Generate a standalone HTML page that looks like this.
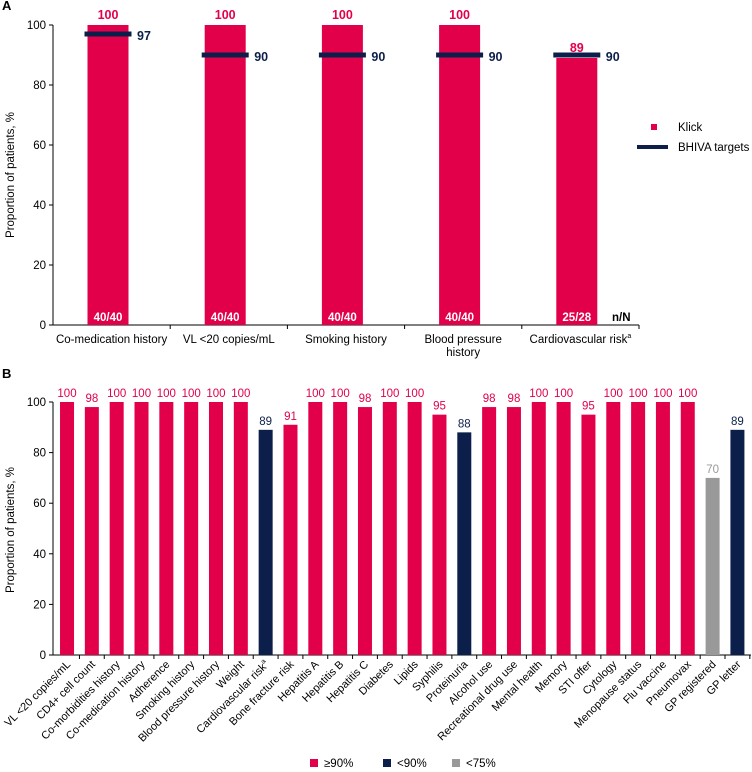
<!DOCTYPE html>
<html><head><meta charset="utf-8"><style>
body{margin:0;background:#fff;}
svg{display:block;font-family:"Liberation Sans",Arial,sans-serif;}
</style></head><body>
<svg id="svg" width="752" height="772" viewBox="0 0 752 772">
<text x="2" y="10" font-size="13" font-weight="bold">A</text>
<text x="2" y="378" font-size="13" font-weight="bold">B</text>
<g id="ga"></g>
<g id="gb"></g>
</svg>
<script>
const aCats=[["Co-medication history"],["VL <20 copies/mL"],["Smoking history"],["Blood pressure","history"],["Cardiovascular risk"]];
const aVals=[100,100,100,100,89];
const aTargets=[97,90,90,90,90];
const aN=["40/40","40/40","40/40","40/40","25/28"];
const aTicks=[0,20,40,60,80,100];

const bCats=["VL <20 copies/mL","CD4+ cell count","Co-morbidities history","Co-medication history","Adherence","Smoking history","Blood pressure history","Weight","Cardiovascular risk","Bone fracture risk","Hepatitis A","Hepatitis B","Hepatitis C","Diabetes","Lipids","Syphilis","Proteinuria","Alcohol use","Recreational drug use","Mental health","Memory","STI offer","Cytology","Menopause status","Flu vaccine","Pneumovax","GP registered","GP letter"];
const bVals=[100,98,100,100,100,100,100,100,89,91,100,100,98,100,100,95,88,98,98,100,100,95,100,100,100,100,70,89];
const bTicks=[0,20,40,60,80,100];

const RED="#e2004a",NAVY="#0c1f4a",GREY="#999999";
const NS="http://www.w3.org/2000/svg";
function mk(p,tag,at,txt){const e=document.createElementNS(NS,tag);for(const k in at)e.setAttribute(k,at[k]);if(txt!==undefined)e.textContent=txt;p.appendChild(e);return e;}

// Panel A
const ga=document.getElementById('ga');
const ay=v=>325-v*3.0, ax0=53, aslot=117.2;
const ac=i=>ax0+aslot*i+55;
let e;
e=mk(ga,'line',{x1:53,y1:25,x2:53,y2:325,stroke:'#000'});

e=mk(ga,'line',{x1:53,y1:325,x2:639,y2:325,stroke:'#000'});

aTicks.forEach(t=>{
  mk(ga,'line',{x1:49,y1:ay(t),x2:53,y2:ay(t),stroke:'#000'});
  e=mk(ga,'text',{x:46,y:ay(t)+4,'font-size':11.5,'text-anchor':'end'},t);
  
});
for(let i=1;i<=aCats.length;i++){mk(ga,'line',{x1:ax0+aslot*i,y1:325,x2:ax0+aslot*i,y2:329,stroke:'#000'});}
e=mk(ga,'text',{x:14,y:175,'font-size':11.5,'text-anchor':'middle',transform:'rotate(-90 14 175)'},'Proportion of patients, %');

aVals.forEach((v,i)=>{
  const c=ac(i);
  e=mk(ga,'rect',{x:c-20.5,y:ay(v),width:41,height:325-ay(v),fill:RED});
  
  e=mk(ga,'text',{x:c,y:ay(v)-6,'font-size':12.5,'font-weight':'bold',fill:RED,'text-anchor':'middle'},v);
  
  e=mk(ga,'rect',{x:c-23.5,y:ay(aTargets[i])-2.5,width:47,height:5,fill:NAVY});
  
  e=mk(ga,'text',{x:c+29,y:ay(aTargets[i])+6,'font-size':12.5,'font-weight':'bold',fill:NAVY},aTargets[i]);
  
  e=mk(ga,'text',{x:c,y:321,'font-size':11.5,'font-weight':'bold',fill:'#fff','text-anchor':'middle'},aN[i]);
  
  const lines=aCats[i];
  lines.forEach((l,j)=>{
    e=mk(ga,'text',{x:ax0+aslot*(i+0.5),y:343+j*13,'font-size':11.5,'text-anchor':'middle'},l);
    
    if(i===4){mk(e,'tspan',{'font-size':7,dy:-5},'a');}
  });
});
e=mk(ga,'text',{x:612,y:321,'font-size':11.5,'font-weight':'bold'},'n/N');

e=mk(ga,'rect',{x:651,y:124,width:6,height:6,fill:RED});

e=mk(ga,'text',{x:678,y:131,'font-size':11.5},'Klick');

e=mk(ga,'rect',{x:637,y:145,width:31,height:4,fill:NAVY});

e=mk(ga,'text',{x:678,y:151,'font-size':11.5},'BHIVA targets');


// Panel B
const gb=document.getElementById('gb');
const by=v=>655-v*2.53, bx0=54.6, bslot=24.83;
const bc=i=>bx0+bslot*(i+0.5);
e=mk(gb,'line',{x1:53,y1:402,x2:53,y2:655,stroke:'#000'});

e=mk(gb,'line',{x1:53,y1:655,x2:751,y2:655,stroke:'#000'});

bTicks.forEach(t=>{
  mk(gb,'line',{x1:49,y1:by(t),x2:53,y2:by(t),stroke:'#000'});
  e=mk(gb,'text',{x:46,y:by(t)+4,'font-size':11.5,'text-anchor':'end'},t);
  
});
e=mk(gb,'text',{x:14,y:530,'font-size':11.5,'text-anchor':'middle',transform:'rotate(-90 14 530)'},'Proportion of patients, %');

bVals.forEach((v,i)=>{
  const c=bc(i);
  const col=v<75?GREY:(v<90?NAVY:RED);
  mk(gb,'line',{x1:bx0+bslot*(i+1),y1:655,x2:bx0+bslot*(i+1),y2:659,stroke:'#000'});
  e=mk(gb,'rect',{x:c-7,y:by(v),width:14,height:655-by(v),fill:col});
  
  
  e=mk(gb,'text',{x:c,y:by(v)-5,'font-size':11.5,fill:col,'text-anchor':'middle'},v);
  
  e=mk(gb,'text',{x:c+4,y:665,'font-size':11,'text-anchor':'end',transform:`rotate(-45 ${c+4} 665)`},bCats[i]);
  
  if(i===8){mk(e,'tspan',{'font-size':7,dy:-5},'a');}
});
const leg=[[RED,'≥90%',310],[NAVY,'<90%',383],[GREY,'<75%',452]];
leg.forEach(l=>{
  e=mk(gb,'rect',{x:l[2],y:759,width:8,height:8,fill:l[0]});
  
  e=mk(gb,'text',{x:l[2]+14,y:767,'font-size':11.5},l[1]);
  
});
</script>
</body></html>
